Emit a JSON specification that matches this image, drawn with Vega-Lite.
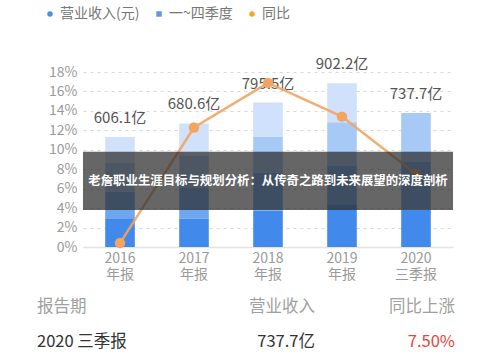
{
  "$schema": "https://vega.github.io/schema/vega-lite/v6.json",
  "width": 370,
  "height": 175,
  "autosize": {"type": "none"},
  "padding": {"left": 83, "top": 72, "right": 47, "bottom": 115},
  "background": "white",
  "config": {"view": {"stroke": null}, "font": "Noto Sans CJK SC", "text": {"font": "Noto Sans CJK SC"}},
  "datasets": {
    "quarters": [
      {"year": "2016", "quarter": "Q1", "value": 154},
      {"year": "2016", "quarter": "Q2", "value": 150},
      {"year": "2016", "quarter": "Q3", "value": 158.9},
      {"year": "2016", "quarter": "Q4", "value": 143.2},
      {"year": "2017", "quarter": "Q1", "value": 155},
      {"year": "2017", "quarter": "Q2", "value": 170},
      {"year": "2017", "quarter": "Q3", "value": 179.6},
      {"year": "2017", "quarter": "Q4", "value": 176},
      {"year": "2018", "quarter": "Q1", "value": 200},
      {"year": "2018", "quarter": "Q2", "value": 210},
      {"year": "2018", "quarter": "Q3", "value": 198.5},
      {"year": "2018", "quarter": "Q4", "value": 187},
      {"year": "2019", "quarter": "Q1", "value": 231},
      {"year": "2019", "quarter": "Q2", "value": 215},
      {"year": "2019", "quarter": "Q3", "value": 241.2},
      {"year": "2019", "quarter": "Q4", "value": 215},
      {"year": "2020", "quarter": "Q1", "value": 205},
      {"year": "2020", "quarter": "Q2", "value": 262.7},
      {"year": "2020", "quarter": "Q3", "value": 270}
    ],
    "totals": [
      {"year": "2016", "total": 606.1, "label": "606.1亿", "growth": 0.4},
      {"year": "2017", "total": 680.6, "label": "680.6亿", "growth": 12.29},
      {"year": "2018", "total": 795.5, "label": "795.5亿", "growth": 16.88},
      {"year": "2019", "total": 902.2, "label": "902.2亿", "growth": 13.41},
      {"year": "2020", "total": 737.7, "label": "737.7亿", "growth": 7.5}
    ],
    "legendItems": [
      {"item": "营业收入(元)"},
      {"item": "一~四季度"},
      {"item": "同比"}
    ],
    "banner": [
      {"text": "老詹职业生涯目标与规划分析：从传奇之路到未来展望的深度剖析", "low": 3.8, "high": 9.8, "mid": 6.8}
    ],
    "table": [
      {"col": "c1", "row": "h", "text": "报告期"},
      {"col": "c2", "row": "h", "text": "营业收入"},
      {"col": "c3", "row": "h", "text": "同比上涨"},
      {"col": "c1", "row": "r", "text": "2020 三季报"},
      {"col": "c2", "row": "r", "text": "737.7亿"},
      {"col": "c3", "row": "r", "text": "7.50%"}
    ]
  },
  "layer": [
    {
      "layer": [
        {
          "data": {"name": "quarters"},
          "mark": {"type": "bar"},
          "encoding": {
            "x": {
              "field": "year", "type": "ordinal",
              "scale": {"paddingInner": 0.6, "paddingOuter": 0.3},
              "axis": {
                "title": null, "domain": true, "domainColor": "#e3e3e3", "domainWidth": 1.5,
                "ticks": false, "labelAngle": 0, "labelFontSize": 14, "labelColor": "#9a9a9a",
                "labelPadding": 4, "labelLineHeight": 16, "grid": false,
                "labelExpr": "[datum.value, datum.value == '2020' ? '三季报' : '年报']"
              }
            },
            "y": {"field": "value", "type": "quantitative", "stack": "zero", "scale": {"domain": [0, 963.6]}, "axis": null},
            "color": {
              "field": "quarter", "type": "nominal",
              "scale": {"domain": ["Q1", "Q2", "Q3", "Q4"], "range": ["#4189ea", "#6ea7f0", "#a6c9f5", "#d0e2fb"]},
              "legend": null
            },
            "order": {"field": "quarter", "type": "ordinal", "sort": "ascending"}
          }
        },
        {
          "data": {"name": "totals"},
          "mark": {"type": "text", "dy": -19, "fontSize": 15, "color": "#555555", "baseline": "middle"},
          "encoding": {
            "x": {"field": "year", "type": "ordinal"},
            "y": {"field": "total", "type": "quantitative", "scale": {"domain": [0, 963.6]}, "axis": null},
            "text": {"field": "label"}
          }
        },
        {
          "data": {"name": "totals"},
          "mark": {
            "type": "line", "color": "#f3a461", "strokeWidth": 2.5, "opacity": 0.9,
            "point": {"filled": true, "size": 110, "color": "#f3a461", "opacity": 1}
          },
          "encoding": {
            "x": {"field": "year", "type": "ordinal"},
            "y": {
              "field": "growth", "type": "quantitative", "scale": {"domain": [0, 18]},
              "axis": {
                "title": null, "values": [0, 2, 4, 6, 8, 10, 12, 14, 16, 18],
                "labelExpr": "datum.value + '%'", "grid": true, "gridDash": [3, 4],
                "gridColor": "#d8d8d8", "domain": false, "ticks": false,
                "labelFontSize": 14, "labelColor": "#9a9a9a", "labelPadding": 6
              }
            }
          }
        },
        {
          "data": {"name": "legendItems"},
          "transform": [{"filter": "false"}],
          "mark": {"type": "point", "filled": true},
          "encoding": {
            "fill": {
              "field": "item", "type": "nominal",
              "scale": {"domain": ["营业收入(元)", "一~四季度", "同比"], "range": ["#4a8fe6", "#5f96e8", "#f5a623"]},
              "legend": {
                "orient": "none", "legendX": -40, "legendY": -65, "direction": "horizontal",
                "title": null, "labelFontSize": 14, "labelColor": "#777777", "symbolSize": 30,
                "symbolOpacity": 1, "symbolStrokeWidth": 0, "columnPadding": 12, "labelOffset": 3
              }
            },
            "shape": {
              "field": "item", "type": "nominal",
              "scale": {"domain": ["营业收入(元)", "一~四季度", "同比"], "range": ["circle", "square", "circle"]},
              "legend": {
                "orient": "none", "legendX": -40, "legendY": -65, "direction": "horizontal",
                "title": null, "labelFontSize": 14, "labelColor": "#777777", "symbolSize": 30,
                "symbolOpacity": 1, "symbolStrokeWidth": 0, "columnPadding": 12, "labelOffset": 3
              }
            }
          }
        },
        {
          "data": {"name": "banner"},
          "mark": {"type": "rect", "color": "#2b2b2b", "opacity": 0.72},
          "encoding": {
            "y": {"field": "low", "type": "quantitative", "scale": {"domain": [0, 18]}, "axis": null},
            "y2": {"field": "high"}
          }
        },
        {
          "data": {"name": "banner"},
          "mark": {"type": "text", "color": "white", "fontSize": 12.4, "fontWeight": "bold", "baseline": "middle"},
          "encoding": {
            "y": {"field": "mid", "type": "quantitative", "scale": {"domain": [0, 18]}, "axis": null},
            "text": {"field": "text"}
          }
        }
      ],
      "resolve": {"scale": {"y": "independent"}}
    },
    {
      "data": {"name": "table"},
      "encoding": {
        "x": {"field": "col", "type": "ordinal", "scale": {"type": "point", "domain": ["c1", "c2", "c3"], "range": [-46, 372], "padding": 0}, "axis": null},
        "y": {"field": "row", "type": "ordinal", "scale": {"type": "point", "domain": ["h", "r"], "range": [235, 270], "padding": 0}, "axis": null},
        "text": {"field": "text"}
      },
      "layer": [
        {"transform": [{"filter": "datum.row == 'h' && datum.col == 'c1'"}], "mark": {"type": "text", "align": "left", "baseline": "middle", "fontSize": 16.5, "color": "#a0a0a0"}},
        {"transform": [{"filter": "datum.row == 'h' && datum.col == 'c2'"}], "mark": {"type": "text", "align": "right", "baseline": "middle", "fontSize": 16.5, "color": "#a0a0a0", "dx": 69}},
        {"transform": [{"filter": "datum.row == 'h' && datum.col == 'c3'"}], "mark": {"type": "text", "align": "right", "baseline": "middle", "fontSize": 16.5, "color": "#a0a0a0"}},
        {"transform": [{"filter": "datum.row == 'r' && datum.col == 'c1'"}], "mark": {"type": "text", "align": "left", "baseline": "middle", "fontSize": 16.5, "color": "#333333"}},
        {"transform": [{"filter": "datum.row == 'r' && datum.col == 'c2'"}], "mark": {"type": "text", "align": "right", "baseline": "middle", "fontSize": 16.5, "color": "#333333", "dx": 69}},
        {"transform": [{"filter": "datum.row == 'r' && datum.col == 'c3'"}], "mark": {"type": "text", "align": "right", "baseline": "middle", "fontSize": 16.5, "color": "#e5463b"}}
      ]
    }
  ],
  "resolve": {"scale": {"x": "independent", "y": "independent"}}
}
